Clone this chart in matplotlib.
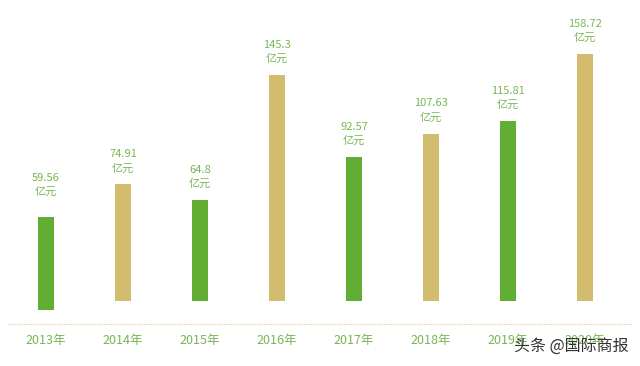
import matplotlib.pyplot as plt

plt.rcParams['font.family'] = ['Noto Sans CJK SC', 'DejaVu Sans']

# data
years = ['2013年', '2014年', '2015年', '2016年', '2017年', '2018年', '2019年', '2020年']
values = [59.56, 74.91, 64.8, 145.3, 92.57, 107.63, 115.81, 158.72]
labels = ['59.56', '74.91', '64.8', '145.3', '92.57', '107.63', '115.81', '158.72']

green = '#62ad34'
tan = '#d3bc6d'
text_green = '#78b653'
colors = [green if i % 2 == 0 else tan for i in range(len(values))]
# the first bar sits a little lower than the rest in the original
bottoms = [-5.8] + [0] * (len(values) - 1)

fig = plt.figure(figsize=(6.4, 3.66), dpi=100)
ax = fig.add_axes([0, 0, 1, 1])
ax.set_xlim(-0.597, 7.714)
ax.set_ylim(-41.8, 193.5)
ax.axis('off')

x = list(range(len(values)))
ax.bar(x, values, width=0.21, bottom=bottoms, color=colors)

for xi, v, lab in zip(x, values, labels):
    ax.annotate(lab + '\n亿元', (xi, v), xytext=(0, 8), textcoords='offset points',
                ha='center', va='bottom', fontsize=8, color=text_green, linespacing=1.45)

# dotted baseline
ax.plot([-0.49, 7.61], [-14.8, -14.8], linestyle=(0, (1, 1)), color='#e3cc9e', linewidth=0.8)

for xi, yr in zip(x, years):
    ax.text(xi, -25.1, yr, ha='center', va='center', fontsize=9, color=text_green)

# watermark
fig.text(0.982, 0.05, '头条 @国际商报', ha='right', va='center', fontsize=11.5, color='#333333')

fig.savefig('out.png', dpi=100)
